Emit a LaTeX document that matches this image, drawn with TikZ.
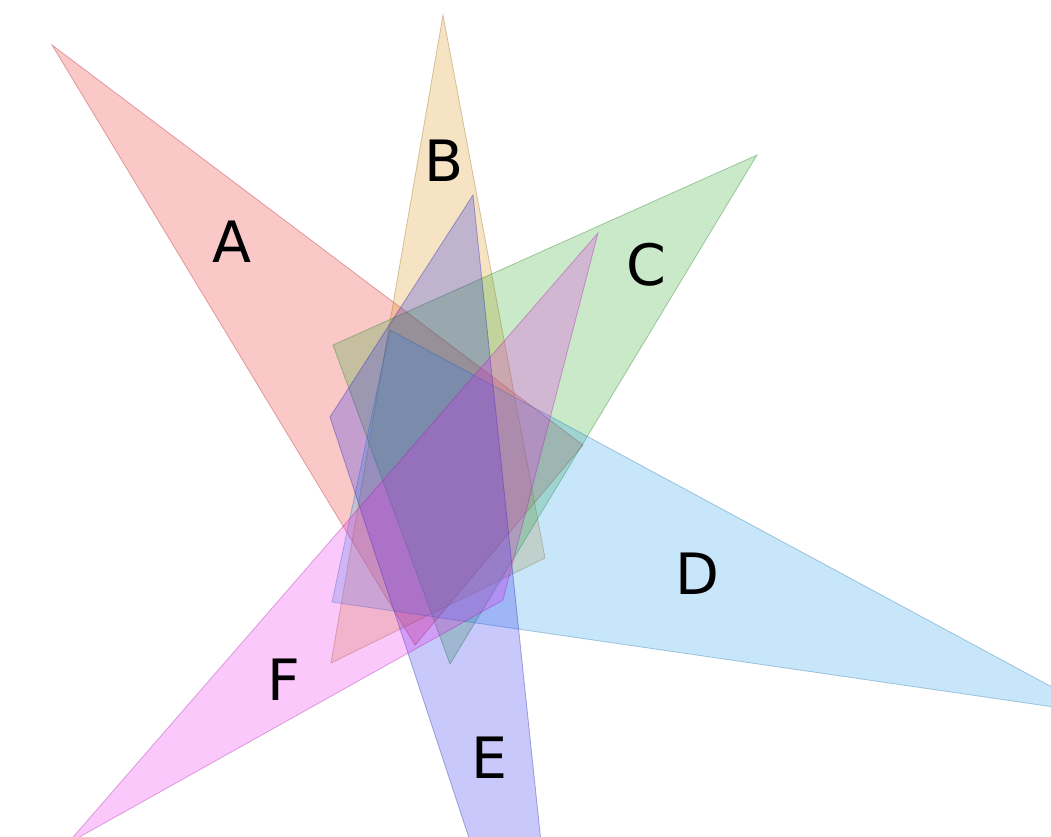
\documentclass[tikz,border=0pt]{standalone}
\usepackage{fontspec}
\setmainfont{DejaVu Sans}
\definecolor{cA}{RGB}{241,36,36}
\definecolor{cB}{RGB}{215,143,19}
\definecolor{cC}{RGB}{39,167,39}
\definecolor{cD}{RGB}{35,155,235}
\definecolor{cE}{RGB}{35,35,235}
\definecolor{cF}{RGB}{235,35,235}
\begin{document}
\begin{tikzpicture}[x=1pt,y=-1pt,
  tri/.style={draw=#1!70!black, draw opacity=0.35, fill=#1, fill opacity=0.25, line width=0.8pt, line join=miter},
  lab/.style={font=\fontsize{57}{60}\selectfont, inner sep=0pt, text=black}]
\useasboundingbox (0,0) rectangle (1051,836);
\clip (0,0) rectangle (1051,836);
% vertices
\coordinate (a1) at (52,45);   \coordinate (a2) at (583,445);  \coordinate (a3) at (415,645);
\coordinate (b1) at (443,15);  \coordinate (b2) at (545,558);  \coordinate (b3) at (331,663);
\coordinate (c1) at (757,155); \coordinate (c2) at (450,664);  \coordinate (c3) at (333,345);
\coordinate (d1) at (1102,714);\coordinate (d2) at (390,330);  \coordinate (d3) at (332,602);
\coordinate (e1) at (473,195); \coordinate (e2) at (330,417);  \coordinate (e3) at (574,1156);
\coordinate (f1) at (67,844);  \coordinate (f2) at (598,233);  \coordinate (f3) at (503,600);
\path[tri=cA] (a1) -- (a2) -- (a3) -- cycle;
\path[tri=cB] (b1) -- (b2) -- (b3) -- cycle;
\path[tri=cC] (c1) -- (c2) -- (c3) -- cycle;
\path[tri=cD] (d1) -- (d2) -- (d3) -- cycle;
\path[tri=cE] (e1) -- (e2) -- (e3) -- cycle;
\path[tri=cF] (f1) -- (f2) -- (f3) -- cycle;
\node[lab] (lA) at (232,242) {A};
\node[lab] (lB) at (444,161) {B};
\node[lab] (lC) at (646,265) {C};
\node[lab] (lD) at (697,574) {D};
\node[lab] (lE) at (490,758) {E};
\node[lab] (lF) at (284,680) {F};
\end{tikzpicture}
\end{document}
